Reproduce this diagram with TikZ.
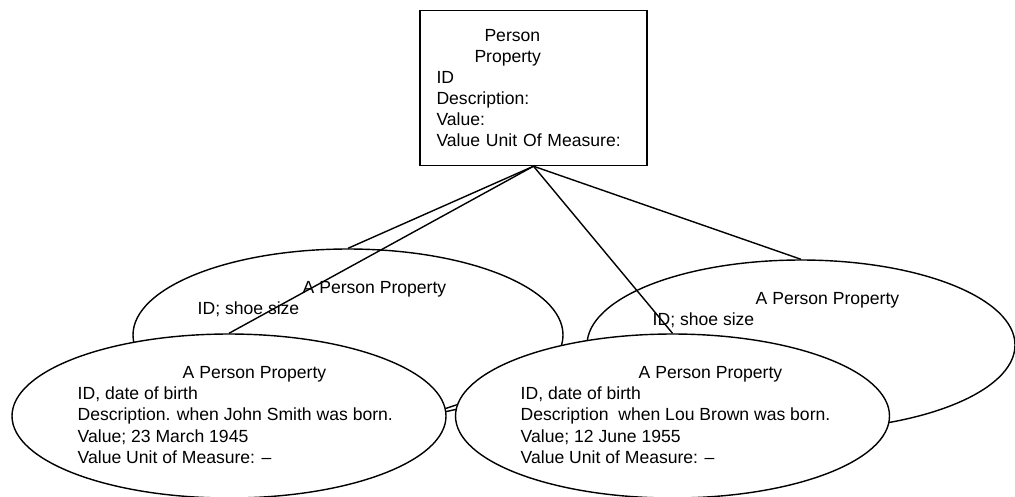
\documentclass[tikz,border=0pt]{standalone}
\usepackage{fontspec}
\setmainfont{Liberation Sans}
\usetikzlibrary{shapes.geometric}

\begin{document}
\begin{tikzpicture}[line width=0.8pt,
	every node/.style={font=\fontsize{10}{12}\selectfont},
	prop/.style={ellipse, draw, fill=white, minimum width=8.68cm, minimum height=3.28cm, inner sep=0pt},
	proptext/.style={anchor=north west, inner sep=0pt, align=left}]
	\useasboundingbox (0,0) rectangle (20.3,-9.92);
	\node[draw, rectangle, minimum width=4.54cm, minimum height=3.1cm, text width=3.88cm, align=left] (class) at (10.67,-1.76) {\hspace*{0.96cm}Person\\ \hspace*{0.76cm}Property\\ ID\\ Description:\\ Value:\\ Value Unit Of Measure:};
	% back row
	\node[prop, minimum width=8.6cm, minimum height=3.44cm] (shoeA) at (6.96,-6.70) {};
	\node[proptext] (shoeAtext) at (3.94,-5.62) {\hspace*{2.1cm}A Person Property\\ ID; shoe size};
	\node[prop, minimum width=8.56cm, minimum height=3.4cm] (shoeB) at (16.02,-6.90) {};
	\node[proptext] (shoeBtext) at (13.04,-5.84) {\hspace*{2.06cm}A Person Property\\ ID; shoe size};
	% front row
	\node[prop] (birthA) at (4.58,-8.32) {};
	\node[proptext] (birthAtext) at (1.54,-7.32) {\hspace*{2.1cm}A Person Property\\ ID, date of birth\\ Description. when John Smith was born.\\ Value; 23 March 1945\\ Value Unit of Measure: --};
	\node[prop] (birthB) at (13.45,-8.32) {};
	\node[proptext] (birthBtext) at (10.40,-7.32) {\hspace*{2.36cm}A Person Property\\ ID, date of birth\\ Description\ \ when Lou Brown was born.\\ Value; 12 June 1955\\ Value Unit of Measure: --};
	\draw (birthA.2.7) -- (birthB.177.3);
	\foreach \p in {shoeA, birthA, birthB, shoeB} {\draw (class.south) -- (\p.north);}
\end{tikzpicture}
\end{document}
